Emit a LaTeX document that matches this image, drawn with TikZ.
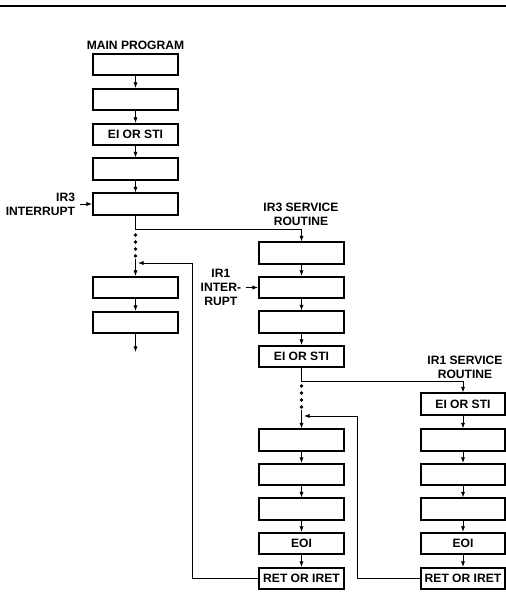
\documentclass[tikz,border=0pt]{standalone}
\usepackage{fontspec}
\setmainfont{Liberation Sans}
\usetikzlibrary{arrows.meta}

\begin{document}
\begin{tikzpicture}[
  x=0.025cm, y=-0.025cm,
  every node/.style={font=\fontsize{8.6}{10}\selectfont\bfseries, align=center},
  blk/.style={rectangle, draw=black, line width=1.4pt, minimum width=2.12cm, minimum height=0.53cm, inner sep=0pt},
  arr/.style={-{Latex[length=4pt,width=3pt]}, line width=0.6pt},
  lnk/.style={line width=0.6pt}
]
\useasboundingbox (0,0) rectangle (506,592);
\draw[line width=1.8pt] (0,6) -- (506,6);

% main program
\node (mtitle) at (135.5,45) {MAIN PROGRAM};
\node[blk] (m1) at (135.5,64.5) {};
\node[blk] (m2) at (135.5,99.5) {};
\node[blk] (m3) at (135.5,134.5) {EI OR STI};
\node[blk] (m4) at (135.5,169) {};
\node[blk] (m5) at (135.5,204) {};
\node[blk] (m6) at (135.5,287.5) {};
\node[blk] (m7) at (135.5,322.5) {};
\draw[arr] (m1) -- (m2);
\draw[arr] (m2) -- (m3);
\draw[arr] (m3) -- (m4);
\draw[arr] (m4) -- (m5);
\draw[arr] (m6) -- (m7);
\node[anchor=east, align=right] (ir3) at (80,204) {IR3\\INTERRUPT};
\draw[arr] (ir3.east) -- (m5.west);
\fill (135.5,235) circle (1.4pt);
\fill (135.5,242) circle (1.4pt);
\fill (135.5,249) circle (1.4pt);
\fill (135.5,256) circle (1.4pt);
\coordinate (mdots) at (135.5,259);
\coordinate (mback) at (138,263);
\coordinate (mend) at (135.5,352);
\draw[arr] (mdots) -- (m6.north);
\draw[arr] (m7) -- (mend);

% IR3 service routine
\node (atitle) at (301,214) {IR3 SERVICE\\ROUTINE};
\node[blk] (a1) at (301.5,253) {};
\node[blk] (a2) at (301.5,287.5) {};
\node[blk] (a3) at (301.5,322) {};
\node[blk] (a4) at (301.5,356.5) {EI OR STI};
\node[blk] (a5) at (301.5,440) {};
\node[blk] (a6) at (301.5,474.5) {};
\node[blk] (a7) at (301.5,509) {};
\node[blk] (a8) at (301.5,543.5) {EOI};
\node[blk] (a9) at (301.5,578.5) {RET OR IRET};
\draw[arr] (a1) -- (a2);
\draw[arr] (a2) -- (a3);
\draw[arr] (a3) -- (a4);
\draw[arr] (a5) -- (a6);
\draw[arr] (a6) -- (a7);
\draw[arr] (a7) -- (a8);
\draw[arr] (a8) -- (a9);
\node[anchor=east] (ir1) at (246,287.5) {IR1\\INTER-\\RUPT};
\draw[arr] (ir1.east) -- (a2.west);
\draw[arr] (m5.south) -- (135.5,229) -| (a1.north);
\fill (301.5,386) circle (1.4pt);
\fill (301.5,393) circle (1.4pt);
\fill (301.5,400) circle (1.4pt);
\fill (301.5,407) circle (1.4pt);
\coordinate (adots) at (301.5,410);
\coordinate (aback) at (304,416);
\draw[arr] (adots) -- (a5.north);
\draw[arr] (a9.west) -| (192,263) -- (mback);

% IR1 service routine
\node (btitle) at (465,367) {IR1 SERVICE\\ROUTINE};
\node[blk] (b1) at (463,404) {EI OR STI};
\node[blk] (b2) at (463,440) {};
\node[blk] (b3) at (463,474.5) {};
\node[blk] (b4) at (463,509) {};
\node[blk] (b5) at (463,543.5) {EOI};
\node[blk] (b6) at (463,578.5) {RET OR IRET};
\draw[arr] (b1) -- (b2);
\draw[arr] (b2) -- (b3);
\draw[arr] (b3) -- (b4);
\draw[arr] (b4) -- (b5);
\draw[arr] (b5) -- (b6);
\draw[arr] (a4.south) -- (301.5,381) -| (b1.north);
\draw[arr] (b6.west) -| (357,416) -- (aback);
\end{tikzpicture}
\end{document}
